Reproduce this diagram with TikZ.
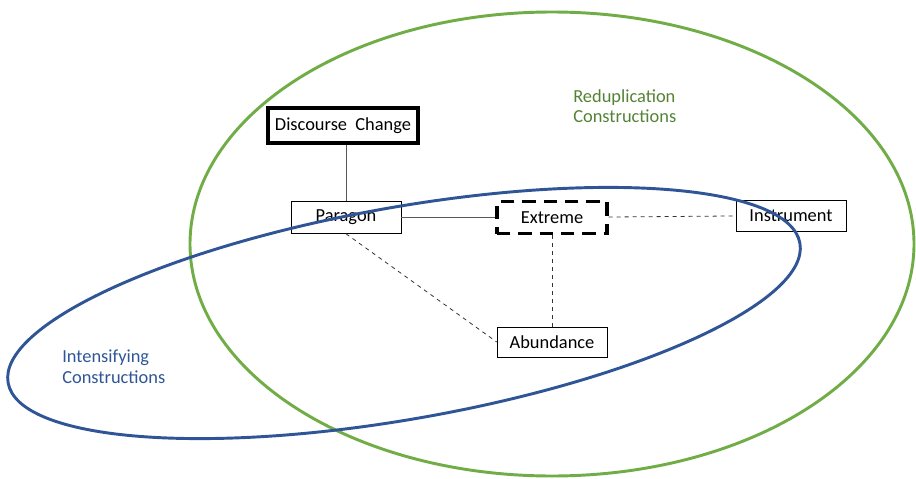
\documentclass[tikz,border=0pt]{standalone}
\usepackage{fontspec}
\setmainfont{Carlito}
\usepackage{tikz}
\usetikzlibrary{calc}
\definecolor{redgreen}{HTML}{70AD47}
\definecolor{redtext}{HTML}{548235}
\definecolor{intblue}{HTML}{2F5597}

\begin{document}
\begin{tikzpicture}[x=0.75pt,y=-0.75pt,
    every node/.style={font=\fontsize{13.8}{15.5}\selectfont},
    sense/.style={draw,fill=white,minimum width=82.5pt,minimum height=24pt,inner sep=0pt},
    link/.style={draw=black!65,line width=0.7pt},
    weak/.style={draw=black!80,line width=0.6pt,dashed}]
              \useasboundingbox (0,0) rectangle (916,478);
              % senses
              \node[sense,minimum width=112pt,minimum height=26pt,line width=3pt] (disc) at (343,125.5) {Discourse\ \ Change};
              \node[sense] (par) at (346,217.5) {Paragon};
              \node[sense,line width=2.6pt,dash pattern=on 10pt off 6pt] (ext) at (552,217.5) {Extreme};
              \node[sense,minimum height=23pt] (ins) at (791,215.5) {Instrument};
              \node[sense,minimum height=22.5pt] (abd) at (552,342) {Abundance};
              % links
              \draw[link] (par.north) -- (par.north |- disc.south);
              \draw[link] (par) -- (ext);
              \draw[weak] (ext) -- (ins);
              \draw[weak] (ext) -- (abd);
              \draw[weak] (par.south) -- (abd.west);
              % the two construction families
              \draw[redgreen,line width=2.2pt] (552,244) ellipse [x radius=362,y radius=232];
              \draw[intblue,line width=2.2pt,rotate around={10:(404,313)}] (404,313) ellipse [x radius=402,y radius=106];
              \node[anchor=north west,align=left,text=redtext,inner sep=0pt] (redlab) at (573,89) {Reduplication\\Constructions};
              \node[anchor=north west,align=left,text=intblue,inner sep=0pt] (intlab) at (62,350) {Intensifying\\Constructions};
\end{tikzpicture}
\end{document}
